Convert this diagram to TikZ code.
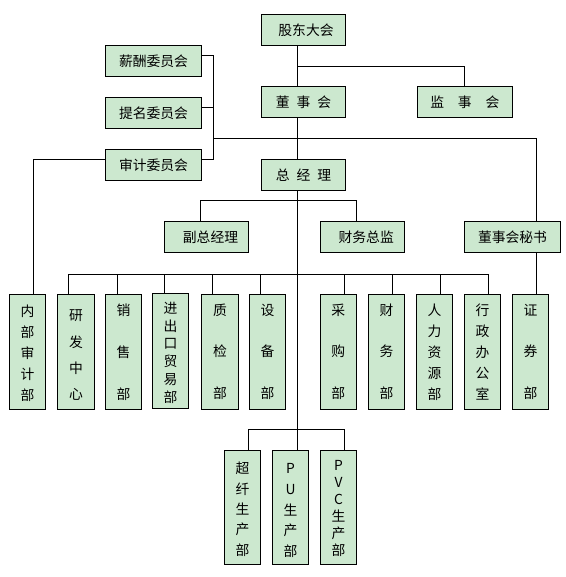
\documentclass[tikz,border=0pt]{standalone}
\usepackage{fontspec}
\setmainfont{Noto Sans CJK SC}
\usetikzlibrary{calc}
\definecolor{boxfill}{RGB}{204,232,207}
\newcommand\vtext[6]{%
  \foreach \ch [count=\i] in {#6} {%
    \pgfmathsetmacro\yy{#3+(\i-1)*(#4-#3)/(#5-1)}%
    \node[chr] (#1-\i) at (#2,\yy) {\ch};
  }%
}
\begin{document}
\begin{tikzpicture}[x=1pt,y=-1pt,
  box/.style={draw=black,line width=0.8pt,fill=boxfill,inner sep=0pt,font=\fontsize{13.8}{15}\selectfont},
  hbox/.style={box,minimum height=31pt},
  vbox/.style={box,minimum width=36.4pt,minimum height=115pt},
  pbox/.style={box,minimum width=36.4pt,minimum height=114.3pt},
  chr/.style={inner sep=0pt,font=\fontsize{13.8}{15}\selectfont},
  link/.style={line width=0.8pt,black}]
\useasboundingbox (0,0) rectangle (565,577);
% top boxes
\node[hbox,minimum width=83.6pt] (gd) at (303.5,29.8) {\hspace{5pt}股东大会};
\node[hbox,minimum width=83.6pt] (ds) at (303.5,102.3) {董\hspace{0.5em}事\hspace{0.5em}会};
\node[hbox,minimum width=83.6pt] (zj) at (303.5,174.7) {总\hspace{0.5em}经\hspace{0.5em}理};
\node[hbox,minimum width=95pt] (js) at (464.8,102) {监\hspace{1em}事\hspace{1em}会};
\node[hbox,minimum width=96.4pt] (xc) at (153.5,61) {薪酬委员会\hspace{8pt}};
\node[hbox,minimum width=96.4pt] (tm) at (153.5,112.8) {提名委员会\hspace{8pt}};
\node[hbox,minimum width=96.4pt] (sj) at (153.5,164.8) {审计委员会\hspace{8pt}};
\node[hbox,minimum width=84.4pt] (fz) at (206.5,237) {\hspace{8pt}副总经理};
\node[hbox,minimum width=84.4pt] (cw) at (362.2,237) {\hspace{8pt}财务总监};
\node[hbox,minimum width=96.4pt] (ms) at (512.5,237) {董事会秘书\hspace{6pt}};
% department boxes
\node[vbox] (b1) at (27.5,351.8) {};
\node[vbox] (b2) at (75.9,351.8) {};
\node[vbox] (b3) at (123.5,351.8) {};
\node[vbox] (b4) at (170.5,351.3) {};
\node[vbox] (b5) at (219.9,351.8) {};
\node[vbox] (b6) at (267.5,351.8) {};
\node[vbox] (b7) at (338.2,351.8) {};
\node[vbox] (b8) at (386.5,351.8) {};
\node[vbox] (b9) at (434.5,351.8) {};
\node[vbox] (b10) at (482.5,351.8) {};
\node[vbox] (b11) at (530.5,351.8) {};
\node[pbox] (p1) at (242.5,507.2) {};
\node[pbox] (p2) at (290.5,507.2) {};
\node[pbox] (p3) at (338.5,507.2) {};
% vertical texts
\vtext{b1}{27.5}{311.7}{395}{5}{内,部,审,计,部}
\vtext{b2}{75.9}{316}{394}{4}{研,发,中,心}
\vtext{b3}{123.5}{310}{394}{3}{销,售,部}
\vtext{b4}{170.5}{308}{397.5}{6}{进,出,口,贸,易,部}
\vtext{b5}{219.9}{310}{393}{3}{质,检,部}
\vtext{b6}{267.5}{310}{393}{3}{设,备,部}
\vtext{b7}{338.2}{310}{393}{3}{采,购,部}
\vtext{b8}{386.5}{310}{393}{3}{财,务,部}
\vtext{b9}{434.5}{310}{394}{5}{人,力,资,源,部}
\vtext{b10}{482.5}{310}{394}{5}{行,政,办,公,室}
\vtext{b11}{530.5}{310}{393}{3}{证,券,部}
\vtext{p1}{242.5}{468.7}{550}{5}{超,纤,生,产,部}
\vtext{p2}{290.5}{468.8}{550.8}{5}{P,U,生,产,部}
\vtext{p3}{338.5}{465.5}{550.5}{6}{P,V,C,生,产,部}
% connectors
\coordinate (sp) at (297.3,0);
\coordinate (jA) at (297.3,66.3);
\coordinate (br1) at (213.3,55);
\coordinate (br2) at (213.3,107.3);
\coordinate (br3) at (213.3,159.3);
\coordinate (jB) at (213.3,138);
\coordinate (msx) at (536.7,0);
\coordinate (ax) at (33.3,0);
\coordinate (jC) at (200,200);
\coordinate (jD) at (356.7,200);
\coordinate (hL) at (68.3,274.3);
\coordinate (hR) at (488.3,274.3);
\coordinate (pL) at (248.7,429.3);
\coordinate (pR) at (344.3,429.3);
\draw[link] (gd.south -| sp) -- (ds.north -| sp);
\draw[link] (jA) -| (js.north);
\draw[link] (ds.south -| sp) -- (zj.north -| sp);
\draw[link] (xc.east |- br1) -- (br1) -- (br3) -- (sj.east |- br3);
\draw[link] (tm.east |- br2) -- (br2);
\draw[link] (jB) -| (ms.north -| msx);
\draw[link] (ms.south -| msx) -- (b11.north -| msx);
\draw[link] (sj.west |- br3) -| (b1.north -| ax);
\draw[link] (zj.south -| sp) -- (p2.north -| sp);
\draw[link] (fz.north -| jC) -- (jC) -- (jD) -- (cw.north -| jD);
\draw[link] (hL) -- (hR);
\foreach \n/\x in {b2/68.3,b3/117.3,b4/164.3,b5/212.3,b6/260.3,b7/344.3,b8/392.3,b9/440.3,b10/488.3}
  \draw[link] (\x,274.3) -- (\n.north -| \x,0);
\draw[link] (p1.north -| pL) -- (pL) -- (pR) -- (p3.north -| pR);
\end{tikzpicture}
\end{document}
